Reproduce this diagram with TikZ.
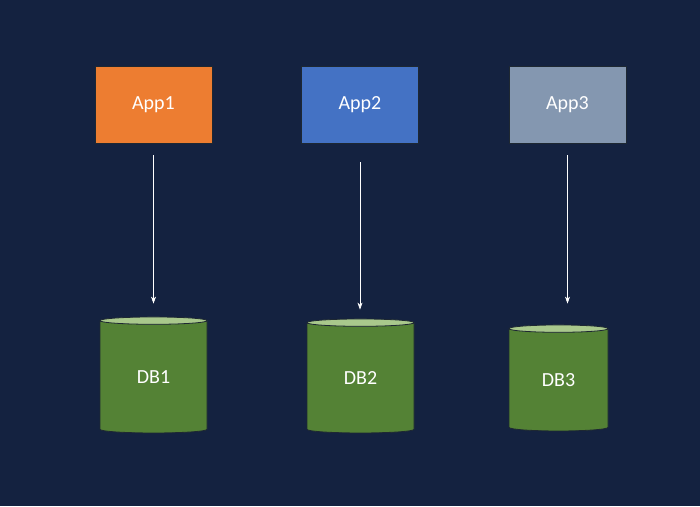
\documentclass[tikz,border=0pt]{standalone}
\usepackage{fontspec}
\setmainfont{Carlito}
\usetikzlibrary{shapes.geometric,arrows.meta}
\definecolor{bg}{RGB}{20,34,64}
\definecolor{c1}{RGB}{237,125,49}
\definecolor{c2}{RGB}{68,114,196}
\definecolor{c3}{RGB}{132,151,176}
\definecolor{dbbody}{RGB}{84,130,53}
\definecolor{dbtop}{RGB}{169,200,140}
\definecolor{edge}{RGB}{30,40,50}
\begin{document}
\begin{tikzpicture}[x=1pt,y=-1pt,
  app/.style={draw=edge,line width=0.8pt,minimum width=117pt,minimum height=77pt,inner sep=0pt,text=white,font=\fontsize{20}{24}\selectfont},
  db/.style={cylinder,shape border rotate=90,draw=edge,line width=0.8pt,cylinder uses custom fill,cylinder body fill=dbbody,cylinder end fill=dbtop,aspect=0.22,inner sep=0pt,text=white,font=\fontsize{20}{24}\selectfont},
  link/.style={draw=white,line width=0.6pt,-{Stealth[length=7pt,width=5pt]}}]
\fill[bg] (0,0) rectangle (700,506);
\useasboundingbox (0,0) rectangle (700,506);
\node[app,fill=c1] (a1) at (153.5,104.5) {App1};
\node[app,fill=c2] (a2) at (360,104.5) {App2};
\node[app,fill=c3] (a3) at (567.5,104.5) {App3};
\node[db,minimum width=107pt,minimum height=116pt] (d1) at (153.5,377) {DB1};
\node[db,minimum width=107pt,minimum height=114pt] (d2) at (360.5,378) {DB2};
\node[db,minimum width=99pt,minimum height=106pt] (d3) at (558.5,380) {DB3};
\draw[link,shorten <=12pt,shorten >=13pt] (a1.south) -- (a1.south |- d1.north);
\draw[link,shorten <=19pt,shorten >=9pt] (a2.south) -- (a2.south |- d2.north);
\draw[link,shorten <=12pt,shorten >=21pt] (a3.south) -- (a3.south |- d3.north);
\end{tikzpicture}
\end{document}
